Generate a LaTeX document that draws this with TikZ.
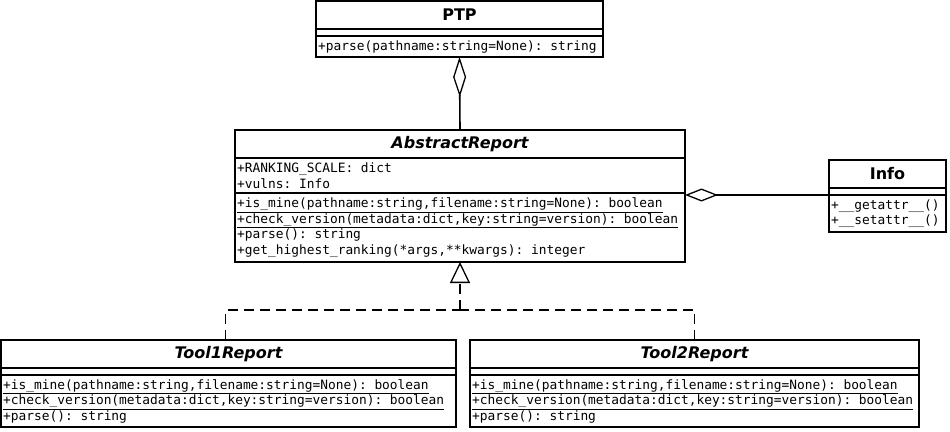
\documentclass[tikz,border=0pt]{standalone}
\usepackage{fontspec}
\setmainfont{DejaVu Sans}
\setmonofont{DejaVu Sans Mono}
\usetikzlibrary{arrows.meta,calc}
\begin{document}
\begin{tikzpicture}[x=1pt,y=-1pt,
  box/.style={draw,line width=1.6pt,inner sep=0pt,outer sep=0pt,anchor=north west},
  ttl/.style={font=\fontsize{16}{18}\selectfont\bfseries,inner sep=0pt},
  ittl/.style={font=\fontsize{16}{18}\selectfont\bfseries\itshape,inner sep=0pt},
  mem/.style={font=\ttfamily\fontsize{12.85}{15.5}\selectfont,anchor=west,inner sep=2pt,align=left},
  conn/.style={line width=1.6pt},
  agg/.style={conn,-{Diamond[open,length=#1,width=13pt,line width=1.3pt]}},
  real/.style={conn,dash pattern=on 10pt off 6pt},
  inh/.style={real,-{Triangle[open,length=21pt,width=20pt,line width=1.3pt]}}]
\useasboundingbox (0,0) rectangle (950,431);
% PTP
\node[box,minimum width=287pt,minimum height=28pt] (ptpT) at (316,1) {};
\node[ttl] (ptpN) at (ptpT.center) {PTP};
\node[box,minimum width=287pt,minimum height=7pt] (ptpA) at (316,29) {};
\node[box,minimum width=287pt,minimum height=21pt] (ptpM) at (316,36) {};
\node[mem] (ptpMt) at (ptpM.west) {+parse(pathname:string=None): string};
% AbstractReport
\node[box,minimum width=450pt,minimum height=28pt] (abT) at (235,130) {};
\node[ittl] (abN) at (abT.center) {AbstractReport};
\node[box,minimum width=450pt,minimum height=35pt] (abA) at (235,158) {};
\node[mem] (abAt) at (abA.west) {+RANKING\_SCALE: dict\\+vulns: Info};
\node[box,minimum width=450pt,minimum height=69pt] (abM) at (235,193) {};
\node[mem] (abMt) at (abM.west) {\underline{+is\_mine(pathname:string,filename:string=None): boolean}\\\underline{+check\_version(metadata:dict,key:string=version): boolean}\\+parse(): string\\+get\_highest\_ranking(*args,**kwargs): integer};
% Info
\node[box,minimum width=117pt,minimum height=28pt] (infT) at (829,160) {};
\node[ttl] (infN) at (infT.center) {Info};
\node[box,minimum width=117pt,minimum height=7pt] (infA) at (829,188) {};
\node[box,minimum width=117pt,minimum height=37pt] (infM) at (829,195) {};
\node[mem] (infMt) at (infM.west) {+\_\_getattr\_\_()\\+\_\_setattr\_\_()};
% Tool1Report
\node[box,minimum width=455pt,minimum height=28pt] (t1T) at (1,340) {};
\node[ittl] (t1N) at (t1T.center) {Tool1Report};
\node[box,minimum width=455pt,minimum height=7pt] (t1A) at (1,368) {};
\node[box,minimum width=455pt,minimum height=52pt] (t1M) at (1,375) {};
\node[mem] (t1Mt) at (t1M.west) {\underline{+is\_mine(pathname:string,filename:string=None): boolean}\\\underline{+check\_version(metadata:dict,key:string=version): boolean}\\+parse(): string};
% Tool2Report
\node[box,minimum width=449pt,minimum height=28pt] (t2T) at (470,340) {};
\node[ittl] (t2N) at (t2T.center) {Tool2Report};
\node[box,minimum width=449pt,minimum height=7pt] (t2A) at (470,368) {};
\node[box,minimum width=449pt,minimum height=52pt] (t2M) at (470,375) {};
\node[mem] (t2Mt) at (t2M.west) {\underline{+is\_mine(pathname:string,filename:string=None): boolean}\\\underline{+check\_version(metadata:dict,key:string=version): boolean}\\+parse(): string};
% connectors
\draw[agg=40pt] (abT.north) -- (ptpM.south);
\draw[agg=33pt] (infM.north west) -- (infM.north west -| abM.east);
\coordinate (join) at ($(abM.south)+(0,48)$);
\coordinate (t1c) at ($(t1T.north)+(-3,0)$);
\draw[real] (t1c) |- (join);
\draw[real] (t2T.north) |- (join);
\draw[inh] (join) -- (abM.south);
\end{tikzpicture}
\end{document}
